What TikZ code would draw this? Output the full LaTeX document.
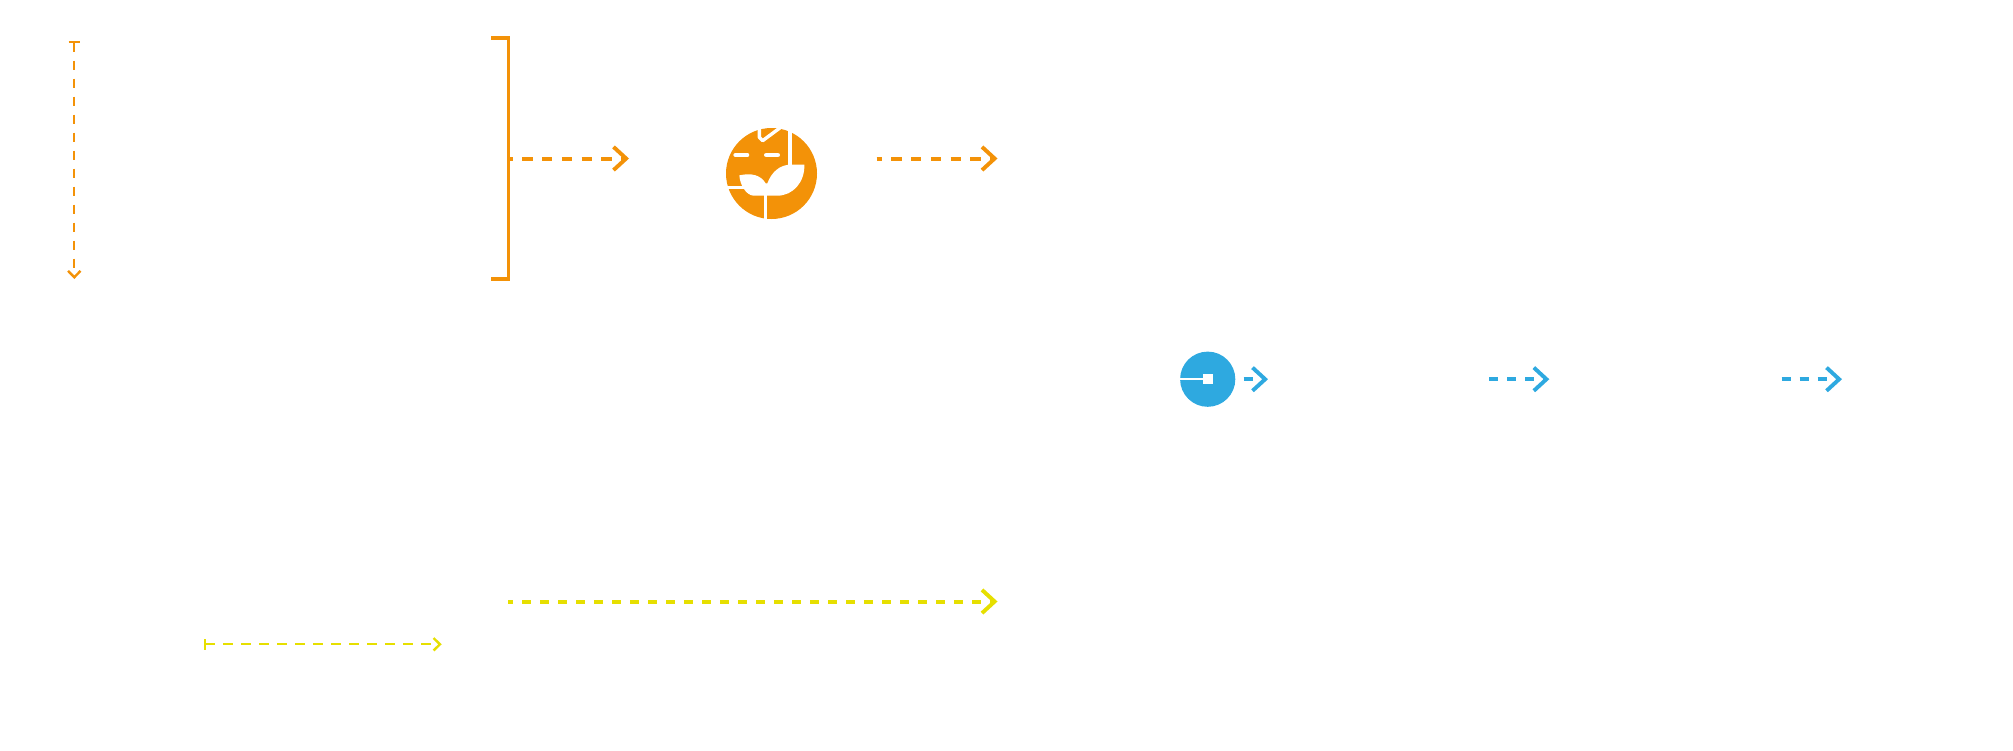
\documentclass[tikz,border=0pt]{standalone}
\usetikzlibrary{arrows.meta}
\definecolor{orangeC}{HTML}{F39208}
\definecolor{blueC}{HTML}{2EA9E0}
\definecolor{yellowC}{HTML}{E6DF00}
\tikzset{
  thick line/.style={line width=2pt,dash pattern=on 4.65pt off 4.35pt},
  thin line/.style={line width=1.15pt,dash pattern=on 4.65pt off 4.35pt},
  big tip/.style={-{Straight Barb[length=6.3pt,width=11.6pt,line width=1.95pt]}},
  bar tip/.style={{Bar[width=5.6pt,line width=1.15pt]}-{Straight Barb[length=3.2pt,width=6.2pt,line width=1.2pt]}},
  disc/.style={circle,inner sep=0pt,draw=none}
}
\begin{document}
\begin{tikzpicture}[x=0.5pt,y=-0.5pt]
\useasboundingbox (0,0) rectangle (2013,750);
% free ends
\coordinate (vs) at (74.3,41);
\coordinate (ve) at (74.3,279);
\coordinate (bt) at (491,37.8);
\coordinate (bb) at (491,279);
\coordinate (bc) at (508.3,158.5);
\coordinate (a1e) at (629,158.5);
\coordinate (a2s) at (876.7,158.5);
\coordinate (a2e) at (997.5,158.5);
\coordinate (ys) at (508.3,601.5);
\coordinate (ye) at (997.5,601.5);
\coordinate (ss) at (203.7,644.3);
\coordinate (se) at (441.7,644.3);
\coordinate (b1s) at (1243.7,379.2);
\coordinate (b1e) at (1268,379.2);
\coordinate (b2s) at (1489,379.2);
\coordinate (b2e) at (1549.3,379.2);
\coordinate (b3s) at (1781.7,379.2);
\coordinate (b3e) at (1842,379.2);
% orange
\draw[orangeC,thin line,dash pattern=on 4.85pt off 4.15pt,bar tip] (vs) -- (ve);
\draw[orangeC,line width=1.7pt] (bt) -- (bt -| bc) -- (bb -| bc) -- (bb);
\draw[orangeC,line width=2pt,dash pattern=on 5.15pt off 4.75pt,dash phase=2.95pt,big tip] (bc) -- (a1e);
\draw[orangeC,line width=2pt,dash pattern=on 5.15pt off 4.75pt,dash phase=2.65pt,big tip] (a2s) -- (a2e);
% yellow
\draw[yellowC,thick line,dash phase=2.15pt,big tip] (ys) -- (ye);
\draw[yellowC,line width=0.95pt,dash pattern=on 4.65pt off 4.35pt,bar tip] (ss) -- (se);
% blue
\draw[blueC,thick line,big tip] (b1s) -- (b1e);
\draw[blueC,thick line,big tip] (b2s) -- (b2e);
\draw[blueC,thick line,big tip] (b3s) -- (b3e);
% blue disc
\node[disc,fill=blueC,minimum size=27.6pt] (bd) at (1207.7,379.2) {};
\node[fill=white,inner sep=0pt,minimum size=4.85pt] (bs) at (1207.9,379.2) {};
\draw[white,line width=0.8pt] (bd.west) -- (bs.west);
% orange icon
\node[disc,fill=orangeC,minimum size=45.5pt] (ic) at (771.5,173.5) {};
\begin{scope}[shift={(690,100)},x=0.16667pt,y=-0.16667pt]
  \draw[white,line width=1.7pt,line join=round] (208,80) -- (208,112) -- (218,122) -- (272,82);
  \draw[white,line width=2.4pt] (300,88) -- (300,200);
  \draw[white,line width=2.33pt,line cap=round] (137,165) -- (171,165);
  \draw[white,line width=2.33pt,line cap=round] (229,165) -- (263,165);
  \fill[white] (232,250) .. controls (245,215) and (270,195) .. (300,194)
    -- (343,194) .. controls (345,245) and (310,287) .. (262,287) -- (190,287)
    .. controls (168,285) and (150,255) .. (148,226)
    .. controls (185,218) and (212,225) .. (227,250) -- cycle;
  \fill[white] (222,280) rectangle (232,360);
  \fill[white] (108,259) rectangle (162,266);
\end{scope}
\end{tikzpicture}
\end{document}
